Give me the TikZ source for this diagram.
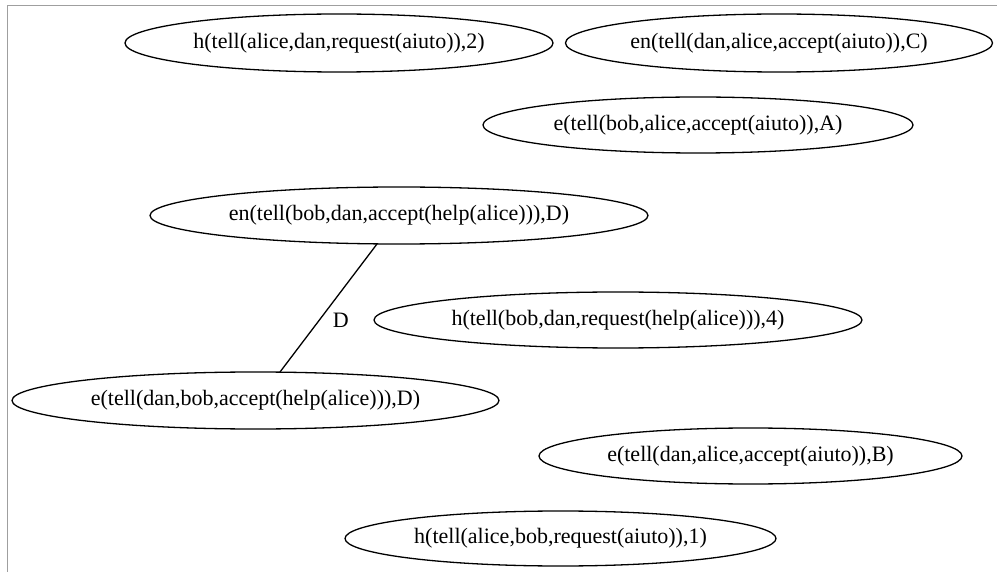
\documentclass[tikz,border=0pt]{standalone}
\usepackage{fontspec}
\setmainfont{Liberation Serif}
\usetikzlibrary{shapes.geometric}
\begin{document}
\begin{tikzpicture}[x=1pt,y=-1pt,
  st/.style={draw=black,line width=1.3pt,ellipse,inner sep=0pt,font=\fontsize{22}{26}\selectfont},
  edge/.style={draw=black,line width=1.3pt}]
\useasboundingbox (0,0) rectangle (997,572);
\draw[gray!75,line width=1pt] (7,572) -- (7,6) -- (997,6);
\node[st,minimum width=428pt,minimum height=58pt] (n1) at (339,43) {h(tell(alice,dan,request(aiuto)),2)};
\node[st,minimum width=427pt,minimum height=58pt] (n2) at (779,43) {en(tell(dan,alice,accept(aiuto)),C)};
\node[st,minimum width=430pt,minimum height=56pt] (n3) at (698,125) {e(tell(bob,alice,accept(aiuto)),A)};
\node[st,minimum width=498pt,minimum height=57pt] (n4) at (399,215.5) {en(tell(bob,dan,accept(help(alice))),D)};
\node[st,minimum width=488pt,minimum height=56pt] (n5) at (618,320) {h(tell(bob,dan,request(help(alice))),4)};
\node[st,minimum width=487pt,minimum height=57pt] (n6) at (255.5,400.5) {e(tell(dan,bob,accept(help(alice))),D)};
\node[st,minimum width=423pt,minimum height=56pt] (n7) at (750.5,456) {e(tell(dan,alice,accept(aiuto)),B)};
\node[st,minimum width=431pt,minimum height=55pt] (n8) at (560.5,538.5) {h(tell(alice,bob,request(aiuto)),1)};
\coordinate (a) at (377,244);
\coordinate (b) at (280,372);
\draw[edge] (a) -- node[pos=0.6,right=10pt,font=\fontsize{22}{26}\selectfont] (lbl) {D} (b);
\end{tikzpicture}
\end{document}
